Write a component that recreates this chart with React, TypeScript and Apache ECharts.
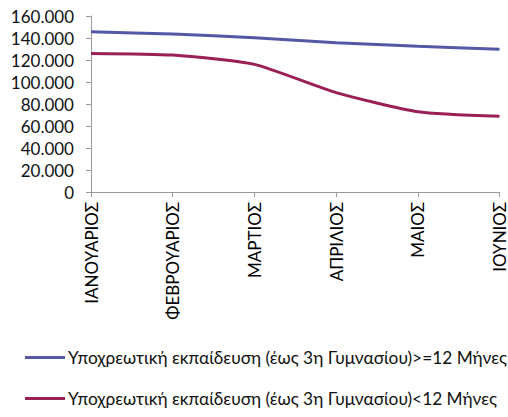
import React, { useEffect, useRef } from "react";
import * as echarts from "echarts";

const categories = ["ΙΑΝΟΥΑΡΙΟΣ", "ΦΕΒΡΟΥΑΡΙΟΣ", "ΜΑΡΤΙΟΣ", "ΑΠΡΙΛΙΟΣ", "ΜΑΙΟΣ", "ΙΟΥΝΙΟΣ"];
const seriesNames = [
  "Υποχρεωτική εκπαίδευση (έως 3η Γυμνασίου)>=12 Μήνες",
  "Υποχρεωτική εκπαίδευση (έως 3η Γυμνασίου)<12 Μήνες",
];
const longTerm = [145700, 143600, 140300, 135700, 132400, 129700];
const shortTerm = [126000, 124500, 116000, 90300, 73000, 68800];
const colors = ["#5558a6", "#9b1f57"];

const fmt = (v: number) => {
  const s = Math.round(v).toString();
  return s.replace(/\B(?=(\d{3})+(?!\d))/g, ".");
};

export default function App() {
  const ref = useRef<HTMLDivElement>(null);
  useEffect(() => {
    if (!ref.current) return;
    const chart = echarts.init(ref.current, undefined, { renderer: "svg" });
    const font = "Lato";
    chart.setOption({
      animation: false,
      backgroundColor: "#ffffff",
      color: colors,
      grid: { left: 91, right: 6, top: 16, bottom: 225 },
      legend: {
        orient: "vertical",
        left: 25,
        top: 349,
        padding: 0,
        itemWidth: 40,
        itemHeight: 3,
        itemGap: 24,
        icon: "rect",
        textStyle: { fontFamily: font, fontSize: 17.3, color: "#111", padding: [0, 0, 0, -2] },
        data: seriesNames,
      },
      xAxis: {
        type: "category",
        data: categories,
        boundaryGap: false,
        axisLine: { lineStyle: { color: "#999", width: 1 } },
        axisTick: { show: true, length: 5, lineStyle: { color: "#999" } },
        axisLabel: {
          rotate: 90,
          margin: 10,
          interval: 0,
          fontFamily: font,
          fontSize: 17,
          color: "#000",
        },
      },
      yAxis: {
        type: "value",
        min: 0,
        max: 160000,
        interval: 20000,
        splitLine: { show: false },
        axisLine: { show: true, lineStyle: { color: "#999", width: 1 } },
        axisTick: { show: true, length: 5, lineStyle: { color: "#999" } },
        axisLabel: {
          formatter: (v: number) => fmt(v),
          margin: 17,
          fontFamily: font,
          fontSize: 17,
          color: "#111",
        },
      },
      series: [
        {
          name: seriesNames[0],
          type: "line",
          data: longTerm,
          smooth: 0.2,
          showSymbol: false,
          symbol: "none",
          lineStyle: { width: 3, color: colors[0] },
        },
        {
          name: seriesNames[1],
          type: "line",
          data: shortTerm,
          smooth: 0.2,
          showSymbol: false,
          symbol: "none",
          lineStyle: { width: 3, color: colors[1] },
        },
      ],
    });
    return () => chart.dispose();
  }, []);
  return (
    <div
      ref={ref}
      style={{ position: "fixed", left: 0, top: 0, width: 508, height: 417 }}
    />
  );
}
